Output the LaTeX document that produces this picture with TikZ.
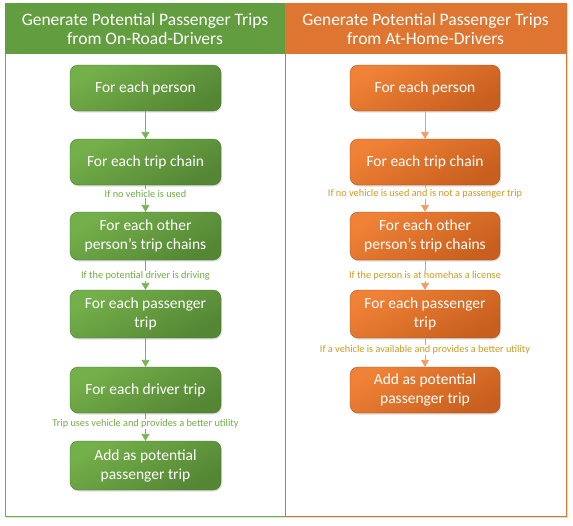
\documentclass[tikz,border=0pt]{standalone}
\usepackage{fontspec}
\setmainfont{Carlito}
\usetikzlibrary{arrows.meta,shadows}
\definecolor{gA}{RGB}{116,176,74}
\definecolor{gB}{RGB}{84,134,52}
\definecolor{gH}{RGB}{98,157,64}
\definecolor{oA}{RGB}{240,130,55}
\definecolor{oB}{RGB}{200,95,30}
\definecolor{oH}{RGB}{222,118,50}
\definecolor{gL}{RGB}{112,173,71}
\definecolor{oL}{RGB}{205,155,35}
\definecolor{gLine}{RGB}{120,180,85}
\definecolor{oLine}{RGB}{244,155,100}
\begin{document}
\begin{tikzpicture}[x=1pt,y=-1pt,
  box/.style={rounded corners=8pt, minimum height=46pt, align=center, text=white,
    font=\fontsize{15.5}{19}\selectfont, shading=axis, shading angle=30,
    drop shadow={shadow xshift=1pt, shadow yshift=-1.5pt, opacity=0.25}},
  gbox/.style={box, top color=gA, bottom color=gB, shading angle=30, minimum width=151pt, draw=gB!80!black, line width=0.3pt},
  obox/.style={box, top color=oA, bottom color=oB, shading angle=30, minimum width=150pt, draw=oB!80!black, line width=0.3pt},
  header/.style={align=center, text=white, font=\fontsize{17.5}{19}\selectfont},
  lbl/.style={font=\fontsize{10.3}{11}\selectfont, fill=white, inner sep=0.6pt},
  glbl/.style={lbl, text=gL},
  olbl/.style={lbl, text=oL},
  garr/.style={draw=gLine, line width=0.8pt, -{Triangle[width=8pt,length=7pt]}},
  oarr/.style={draw=oLine, line width=0.8pt, -{Triangle[width=8pt,length=7pt]}}
]
\useasboundingbox (0,0) rectangle (573,525);
% panels
\fill[gray!25] (6,4) rectangle (287,518);
\fill[white] (5,3) rectangle (285,516);
\draw[gL, line width=0.8pt] (5,3) rectangle (285,516);
\fill[gH] (5,3) rectangle (285,54);
\fill[gray!25] (286,4) rectangle (568,518);
\fill[white] (285,3) rectangle (566,516);
\draw[oA!90!black, line width=0.8pt] (285,3) rectangle (566,516);
\fill[oH] (285,3) rectangle (566,54);
\draw[gL, line width=0.8pt] (285,3) -- (285,54);
\node[header] (hl) at (145,28.5) {Generate Potential Passenger Trips\\from On-Road-Drivers};
\node[header] (hr) at (425.5,28.5) {Generate Potential Passenger Trips\\from At-Home-Drivers};
% left boxes
\node[gbox] (l1) at (145.5,88) {For each person};
\node[gbox] (l2) at (145.5,162) {For each trip chain};
\node[gbox, minimum height=48pt] (l3) at (145.5,236) {For each other\\person's trip chains};
\node[gbox, minimum height=48pt] (l4) at (145.5,314) {For each passenger\\trip};
\node[gbox] (l5) at (145.5,390) {For each driver trip};
\node[gbox, minimum height=49pt] (l6) at (145.5,465.5) {Add as potential\\passenger trip};
% right boxes
\node[obox] (r1) at (425,88) {For each person};
\node[obox] (r2) at (425,162) {For each trip chain};
\node[obox, minimum height=48pt] (r3) at (425,236) {For each other\\person's trip chains};
\node[obox, minimum height=48pt] (r4) at (425,314) {For each passenger\\trip};
\node[obox] (r5) at (425,390) {Add as potential\\passenger trip};
% arrows
\draw[garr] (l1) -- (l2);
\draw[garr] (l2) -- (l3);
\draw[garr] (l3) -- (l4);
\draw[garr] (l4) -- (l5);
\draw[garr] (l5) -- (l6);
\draw[oarr] (r1) -- (r2);
\draw[oarr] (r2) -- (r3);
\draw[oarr] (r3) -- (r4);
\draw[oarr] (r4) -- (r5);
% labels
\node[glbl] (la) at (145.5,193.5) {If no vehicle is used};
\node[glbl] (lb) at (145.5,276) {If the potential driver is driving};
\node[glbl] (lc) at (145.5,424) {Trip uses vehicle and provides a better utility};
\node[olbl] (ra) at (425,193.5) {If no vehicle is used and is not a passenger trip};
\node[olbl] (rb) at (425,276) {If the person is at homehas a license};
\node[olbl] (rc) at (425,350) {If a vehicle is available and provides a better utility};
\end{tikzpicture}
\end{document}
